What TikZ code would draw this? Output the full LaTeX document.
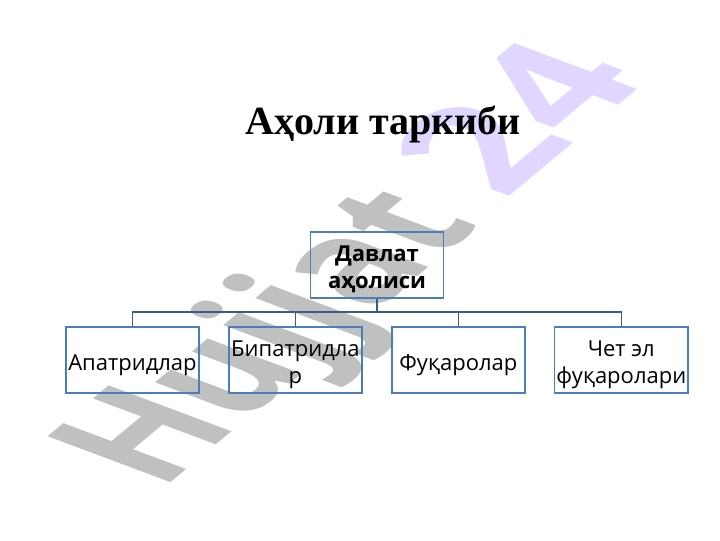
\documentclass[tikz,border=0pt]{standalone}
\usepackage{fontspec}
\usepackage{xcolor}
\setmainfont{Open Sans}
\newfontfamily\titlefont{Liberation Serif}
\usetikzlibrary{positioning}
\definecolor{boxline}{RGB}{74,126,187}
\definecolor{linkline}{RGB}{56,93,138}
\definecolor{markgray}{RGB}{192,192,192}
\definecolor{marklilac}{RGB}{224,214,255}
\tikzset{
  orgbox/.style={draw=boxline, line width=1.2pt, minimum width=100pt, minimum height=49.5pt,
    inner sep=0pt, align=center, text height=20pt, font=\fontsize{16.5}{20.25}\selectfont},
  twolines/.style={text height=39pt},
  orglink/.style={draw=linkline, line width=1.2pt},
  watermark/.style={transform shape, anchor=base west, inner sep=0pt, font=\bfseries\fontsize{100}{100}\selectfont}
}

\begin{document}
\begin{tikzpicture}[x=0.75pt, y=0.75pt, node distance=21pt]
  \useasboundingbox (0,0) rectangle (720,540);

  % Watermark
  \begin{scope}[cm={0.783,0.653,-1.291,0.483,(161,49)}]
    \node[watermark, text=markgray] (mark) {Hujjat};
  \end{scope}
  \begin{scope}[cm={0.96,0.80,-1.291,0.483,(504,339)}]
    \node[watermark, text=marklilac] (year) {24};
  \end{scope}

  % Title
  \node[font=\titlefont\bfseries\fontsize{30}{34}\selectfont] (title) at (383,416) {Аҳоли таркиби};

  % Nodes
  \node[orgbox, twolines, font=\bfseries\fontsize{16.5}{20.25}\selectfont] (root) at (377,275) {Давлат\\аҳолиси};
  \node[orgbox] (apatrid) at (132.5,180) {Апатридлар};
  \node[orgbox, twolines, right=of apatrid] (bipatrid) {Бипатридла\\р};
  \node[orgbox, right=of bipatrid] (citizen) {Фуқаролар};
  \node[orgbox, twolines, right=of citizen] (foreign) {Чет эл\\фуқаролари};
  \coordinate (bus) at (377,228);

  % Connectors
  \draw[orglink] (root.south) -- (bus);
  \draw[orglink] (bus) -| (apatrid.north);
  \draw[orglink] (bus) -| (bipatrid.north);
  \draw[orglink] (bus) -| (citizen.north);
  \draw[orglink] (bus) -| (foreign.north);
\end{tikzpicture}
\end{document}
